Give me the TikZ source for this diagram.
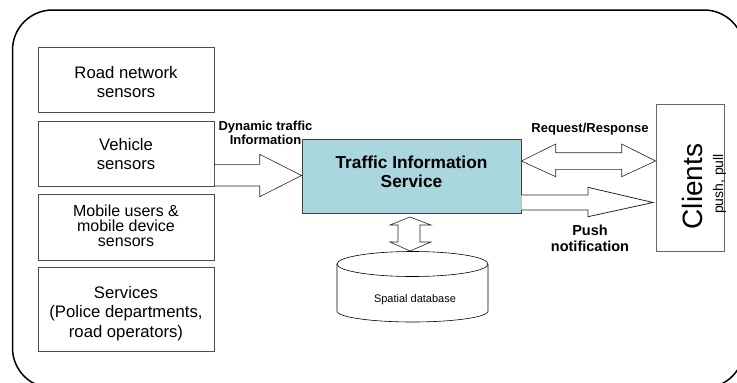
\documentclass[tikz,border=0pt]{standalone}
\usepackage{fontspec}
\setmainfont{Liberation Sans}
\definecolor{tisblue}{RGB}{170,214,221}
\begin{document}
\begin{tikzpicture}[x=1pt,y=-1pt,
  srcbox/.style={draw=black!70, line width=0.8pt, minimum width=176pt, inner sep=0pt},
  srctext/.style={align=center, font=\fontsize{16.7}{19}\selectfont, inner sep=0pt},
  lbl/.style={font=\bfseries\fontsize{13}{14}\selectfont, align=center, inner sep=0pt},
  blockarrow/.style={draw=black!85, fill=white, line width=0.6pt, line join=miter},
]
\useasboundingbox (0,0) rectangle (737,383);
\begin{scope}
  \clip (0,0) rectangle (737,383);
  \draw[line width=1.5pt, rounded corners=40pt] (12.5,10) rectangle (744,388);
\end{scope}

% source boxes
\node[srcbox, minimum height=65pt] (road) at (126,79.5) {};
\node[srcbox, minimum height=65pt] (veh) at (126,153.5) {};
\node[srcbox, minimum height=66pt] (mob) at (126,227) {};
\node[srcbox, minimum height=84pt] (serv) at (126,309) {};
\node[srctext] (roadt) at (126,82.4) {Road network\\sensors};
\node[srctext] (veht) at (126,154) {Vehicle\\sensors};
\node[srctext, font=\fontsize{16}{15}\selectfont] (mobt) at (126,225.6) {Mobile users \&\\mobile device\\sensors};
\node[srctext, font=\fontsize{16.7}{19.5}\selectfont] (servt) at (126,313.2) {Services\\(Police departments,\\road operators)};

% service
\node[draw=black!75, line width=0.8pt, fill=tisblue, minimum width=219pt, minimum height=74pt,
  inner sep=0pt] (tis) at (411.5,176) {};
\node[font=\bfseries\fontsize{17.3}{19}\selectfont, align=center, inner sep=0pt] (tist) at (411.5,172.2) {Traffic Information\\Service};

% clients
\node[draw=black!60, line width=0.8pt, minimum width=68pt, minimum height=147pt, inner sep=0pt] (cli) at (690,177.5) {};
\node[rotate=90, font=\fontsize{28}{28}\selectfont, inner sep=0pt] (clit) at (692,186.5) {Clients};
\node[rotate=90, font=\fontsize{14}{14}\selectfont, inner sep=0pt] (clip) at (719.5,184) {push, pull};

% database
\draw[line width=0.6pt] (337,264) -- (337,311)
  plot[domain=180:0, samples=50] ({412.5+75.5*cos(\x)},{311+11*sin(\x)})
  -- (488,264);
\draw[line width=0.6pt] (412.5,264) ellipse [x radius=75.5, y radius=12.5];
\node[font=\fontsize{11}{11}\selectfont, inner sep=0pt] (db) at (415,300) {Spatial database};

% arrows
\draw[blockarrow] (veh.east |- 0,164.3) -- (259.7,164.3) -- (259.7,154.3) -- (tis.west |- 0,175.5)
  -- (259.7,196.7) -- (259.7,186) -- (veh.east |- 0,186) -- cycle;
\draw[blockarrow] (tis.east |- 0,161) -- (555.7,144) -- (555.7,152.7) -- (621.7,152.7) -- (621.7,144)
  -- (cli.west |- 0,161) -- (621.7,176.7) -- (621.7,169.3) -- (555.7,169.3) -- (555.7,176.7) -- cycle;
\draw[blockarrow, line width=0.8pt] (tis.east |- 0,195) -- (588,195) -- (588,187.3) -- (653,202.5) -- (588,216.7)
  -- (588,210) -- (tis.east |- 0,210);
\draw[blockarrow] (410,217) -- (431,225) -- (420,225) -- (420,242) -- (431,242) -- (410,251)
  -- (390,242) -- (398,242) -- (398,225) -- (390,225) -- cycle;

% labels
\node[lbl] (dyn) at (265.5,132.4) {Dynamic traffic\\Information};
\node[lbl] (rr) at (590,129) {Request/Response};
\node[lbl, font=\bfseries\fontsize{14.5}{16}\selectfont] (push) at (590,238.5) {Push\\notification};
\end{tikzpicture}
\end{document}
